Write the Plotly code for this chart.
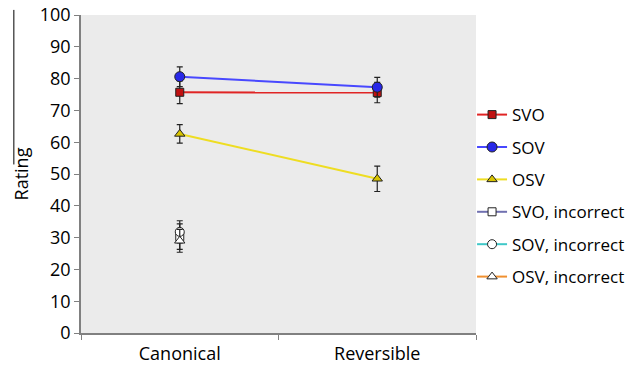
import plotly.graph_objects as go

conditions = ["Canonical", "Reversible"]
svo = [75.7, 75.6]
svo_err = [3.6, 3.2]
sov = [80.6, 77.3]
sov_err = [3.1, 3.1]
osv = [62.6, 48.5]
osv_err = [2.9, 4.0]
svo_inc = [30.3]
svo_inc_err = [4.0]
sov_inc = [31.8]
sov_inc_err = [3.5]
osv_inc = [29.0]
osv_inc_err = [3.6]
incorrect_cond = ["Canonical"]
y_ticks = list(range(0, 101, 10))

series = [
    ("SVO", conditions, svo, svo_err, "#e02424", "#c01010", "square", 8),
    ("SOV", conditions, sov, sov_err, "#4848ff", "#2828e8", "circle", 10),
    ("OSV", conditions, osv, osv_err, "#eedd22", "#d8c400", "triangle-up", 9),
    ("SVO, incorrect", incorrect_cond, svo_inc, svo_inc_err, "#7070b0", "white", "square", 8),
    ("SOV, incorrect", incorrect_cond, sov_inc, sov_inc_err, "#40c8c8", "white", "circle", 9),
    ("OSV, incorrect", incorrect_cond, osv_inc, osv_inc_err, "#f09030", "white", "triangle-up", 9),
]

fig = go.Figure()
for i, (name, xs, ys, es, lc, mc, sym, sz) in enumerate(series):
    fig.add_trace(go.Scatter(
        x=xs, y=ys, name=name, mode="lines+markers",
        legendgroup=f"g{i}",
        line=dict(color=lc, width=2),
        marker=dict(symbol=sym, size=sz, color=mc, line=dict(color="#222222", width=1)),
        error_y=dict(type="data", array=es, visible=True, color="#222222", thickness=1.2, width=3),
    ))

fig.update_layout(
    width=641, height=367,
    margin=dict(l=81, r=165, t=15, b=34, autoexpand=False),
    paper_bgcolor="white",
    plot_bgcolor="#ebebeb",
    font=dict(family="Open Sans", color="black"),
    showlegend=True,
    legend=dict(
        x=0.99, y=0.742, xanchor="left", yanchor="top",
        font=dict(size=17, color="black"),
        tracegroupgap=7.3,
        bgcolor="rgba(0,0,0,0)",
    ),
    xaxis=dict(
        type="category", categoryorder="array", categoryarray=conditions,
        range=[-0.5, 1.5],
        showgrid=False, zeroline=False,
        showline=True, linecolor="#808080", linewidth=1.5,
        ticks="outside", tickson="boundaries", ticklen=5, tickcolor="#808080",
        ticklabelstandoff=4,
        tickfont=dict(size=18, color="black"),
    ),
    yaxis=dict(
        range=[0, 100], tickvals=y_ticks,
        showgrid=False, zeroline=False,
        showline=True, linecolor="#808080", linewidth=1.5,
        ticks="outside", ticklen=5, tickcolor="#808080",
        tickfont=dict(size=18, color="black"),
        title=dict(text="Rating", font=dict(size=18, color="black"), standoff=6),
    ),
    shapes=[dict(type="line", xref="paper", yref="paper",
                 x0=-0.17, x1=-0.17, y0=1.016, y1=0.53,
                 line=dict(color="black", width=1))],
)

# remove the browser's default 8px body margin so the figure fills the window
fig.write_html("out.html", config={"displayModeBar": False},
               post_script="document.body.style.margin='0';")
